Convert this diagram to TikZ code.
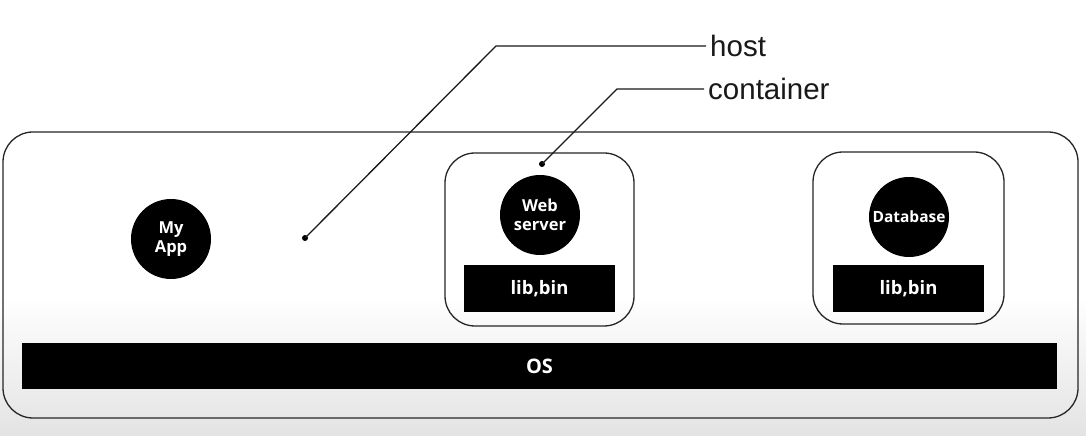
\documentclass[tikz,border=0pt]{standalone}
\usepackage{fontspec}
\setmainfont{Liberation Sans}
\newfontfamily\boxfont{Open Sans}
\begin{document}
\begin{tikzpicture}[x=1pt,y=1pt,
  frame/.style={draw=black!85, line width=1.3pt, rounded corners=30pt},
  blackbar/.style={fill=black, draw=none, text=white, font=\boxfont\bfseries\fontsize{18.5}{20}\selectfont},
  ball/.style={circle, fill=black, draw=none, minimum size=80pt, inner sep=0pt, text=white, align=center, font=\boxfont\bfseries\fontsize{16.5}{19.5}\selectfont},
  leader/.style={draw=black!90, line width=1.3pt},
  dotmark/.style={circle, fill=black, inner sep=0pt, minimum size=6pt},
  callout/.style={anchor=west, inner sep=4pt, font=\fontsize{29.5}{32}\selectfont, text=black!90}]
\useasboundingbox (0,0) rectangle (1086,436);
\fill[white] (0,0) rectangle (1086,436);
\shade[top color=white, bottom color=black!11] (0,0) rectangle (1086,140);
% host
\draw[frame] (3,18) rectangle (1078,304);
\node[blackbar, minimum width=1035pt, minimum height=46pt, font=\boxfont\bfseries\fontsize{20}{22}\selectfont] (os) at (539.5,70) {OS};
\node[ball] (myapp) at (171,197) {My\\App};
% web server container
\draw[frame] (445,110) rectangle (634,283);
\node[ball] (web) at (540,221) {Web\\server};
\node[blackbar, minimum width=151pt, minimum height=47pt] (lib1) at (539.5,147.5) {lib,bin};
% database container
\draw[frame] (813,112) rectangle (1004,284);
\node[ball, font=\boxfont\bfseries\fontsize{15.5}{19}\selectfont] (db) at (909,219) {Database};
\node[blackbar, minimum width=151pt, minimum height=47pt] (lib2) at (908.5,147.5) {lib,bin};
% callouts
\node[callout] (hostlbl) at (706,390) {host};
\node[callout] (contlbl) at (704,347) {container};
\node[dotmark] (hostdot) at (305,198) {};
\node[dotmark] (contdot) at (542,272) {};
\coordinate (hostbend) at (496,390);
\coordinate (contbend) at (617,347);
\draw[leader] (hostdot.center) -- (hostbend) -- (hostlbl.west);
\draw[leader] (contdot.center) -- (contbend) -- (contlbl.west);
\end{tikzpicture}
\end{document}
